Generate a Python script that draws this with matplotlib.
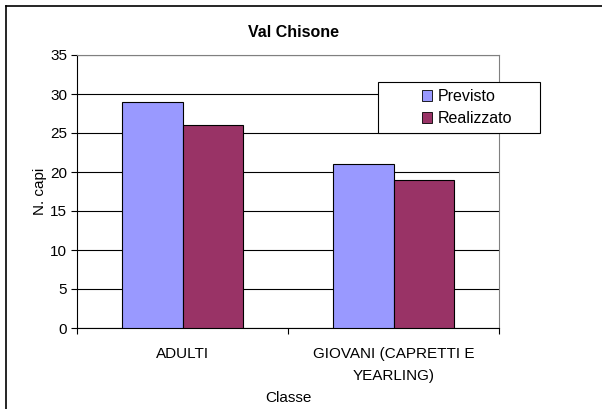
import numpy as np
from matplotlib import pyplot as plt
from matplotlib.lines import Line2D
from matplotlib.patches import Rectangle

categories = ["ADULTI", "GIOVANI (CAPRETTI E\nYEARLING)"]
previsto = [29, 21]
realizzato = [26, 19]
series_labels = ["Previsto", "Realizzato"]
colors = ["#9999FF", "#993366"]
y_ticks = [0, 5, 10, 15, 20, 25, 30, 35]

plt.rcParams['font.family'] = ['Liberation Sans', 'DejaVu Sans']

fig = plt.figure(figsize=(6.02, 4.09), dpi=100)
ax = fig.add_axes([77 / 602, 1 - 328 / 409, 422 / 602, 273 / 409])

x = np.arange(len(categories))
w = 0.285
ax.bar(x - w / 2, previsto, width=w, color=colors[0], edgecolor='black', linewidth=0.8,
       label=series_labels[0], zorder=3)
ax.bar(x + w / 2, realizzato, width=w, color=colors[1], edgecolor='black', linewidth=0.8,
       label=series_labels[1], zorder=3)

ax.set_xlim(-0.5, 1.5)
ax.set_ylim(0, 35)
ax.set_yticks(y_ticks)
ax.yaxis.grid(True, color='black', linewidth=0.8, zorder=0)
ax.set_axisbelow(True)

ax.set_xticks([-0.5, 0.5, 1.5])
ax.set_xticklabels([])
ax.set_xticks(x, minor=True)
ax.set_xticklabels(categories, minor=True, fontsize=11, linespacing=1.7)
ax.tick_params(axis='x', which='minor', length=0, pad=14)
ax.tick_params(axis='x', which='major', length=4, direction='out')
ax.tick_params(axis='y', length=4, direction='out', labelsize=11, pad=3)

for s in ['top', 'right']:
    ax.spines[s].set_color('#808080')
ax.spines['left'].set_color('black')
ax.spines['bottom'].set_color('black')

ax.set_ylabel("N. capi", fontsize=11)
ax.yaxis.set_label_coords((40 - 77) / 422, 0.5)
ax.yaxis.label.set_va('center')
ax.set_xlabel("Classe", fontsize=11)
ax.xaxis.set_label_coords(0.5, -(398 - 328) / 273)
ax.xaxis.label.set_va('center')
ax.set_title("Val Chisone", fontsize=11.5, fontweight='bold', pad=13, x=0.512)

# legend box
bx, by, bw, bh = 378 / 602, 1 - 133 / 409, 162 / 602, 51 / 409
fig.add_artist(Rectangle((bx, by), bw, bh, transform=fig.transFigure, facecolor='white',
                         edgecolor='black', linewidth=0.8, zorder=4))
leg = fig.legend(loc='center', bbox_to_anchor=(bx + bw / 2 + 0.013, by + bh / 2),
                 fontsize=11.5, frameon=False,
                 handlelength=0.65, handleheight=0.65, labelspacing=0.45,
                 borderaxespad=0, handletextpad=0.35)
leg.set_zorder(5)
for h in leg.legend_handles:
    h.set_linewidth(0.6)

# chart area border
fig.add_artist(Line2D([6 / 602, 6 / 602], [0, 1 - 6 / 409], color='black', linewidth=1.2))
fig.add_artist(Line2D([6 / 602, 1], [1 - 6 / 409, 1 - 6 / 409], color='black', linewidth=1.2))

fig.savefig("out.png", dpi=100)
